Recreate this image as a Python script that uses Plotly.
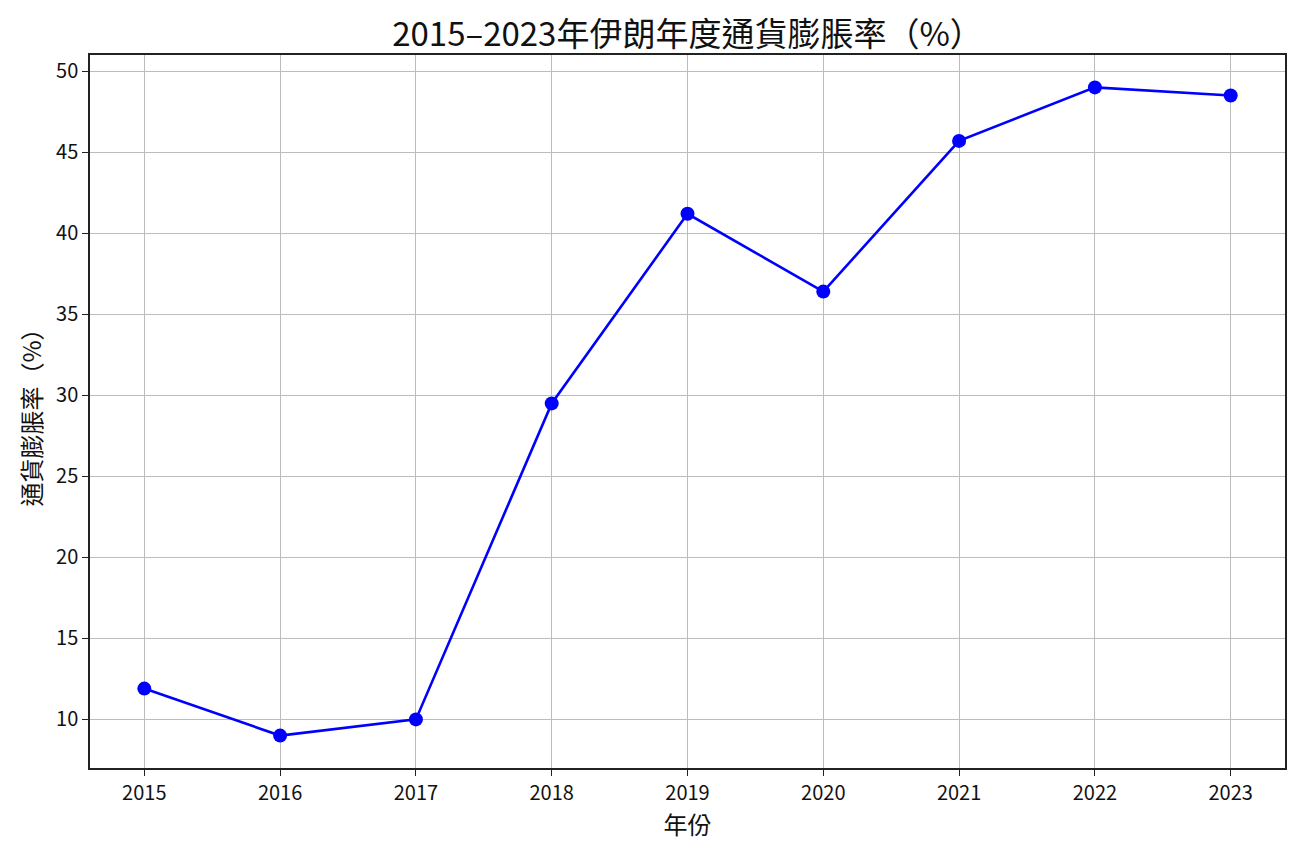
import plotly.graph_objects as go

years = [2015, 2016, 2017, 2018, 2019, 2020, 2021, 2022, 2023]
inflation = [11.9, 9.0, 10.0, 29.5, 41.2, 36.4, 45.7, 49.0, 48.5]
title = "2015–2023年伊朗年度通貨膨脹率（%）"
xlabel = "年份"
ylabel = "通貨膨脹率（%）"

FONT = "Noto Sans CJK TC"

fig = go.Figure()
fig.add_trace(go.Scatter(
    x=years, y=inflation, mode="lines+markers",
    line=dict(color="#0000ff", width=2.6),
    marker=dict(color="#0000ff", size=14),
    showlegend=False,
))

axis_common = dict(
    showline=True, linecolor="#222222", linewidth=1.5, mirror=True,
    showgrid=True, gridcolor="#bcbcbc", gridwidth=1.4,
    ticks="outside", ticklen=6, tickwidth=1.3, tickcolor="#222222",
    tickfont=dict(family=FONT, size=20, color="#111111"),
    zeroline=False,
)

fig.update_layout(
    width=1300, height=855,
    margin=dict(l=82, r=23, t=47, b=95),
    paper_bgcolor="white", plot_bgcolor="white",
    font=dict(family=FONT, color="#111111"),
    title=dict(text=title, x=0.5, xref="paper", xanchor="center",
               y=1 - 26 / 855, yanchor="middle",
               font=dict(family=FONT, size=33, color="#111111")),
    xaxis=dict(range=[2014.6, 2023.4], tickvals=years, ticktext=[str(y) for y in years],
               title=dict(text=xlabel, font=dict(family=FONT, size=24), standoff=6),
               **axis_common),
    yaxis=dict(range=[7.0, 51.0], tickvals=[10, 15, 20, 25, 30, 35, 40, 45, 50],
               title=dict(text=ylabel, font=dict(family=FONT, size=24), standoff=8),
               **axis_common),
)

fig.write_html("out.html")
